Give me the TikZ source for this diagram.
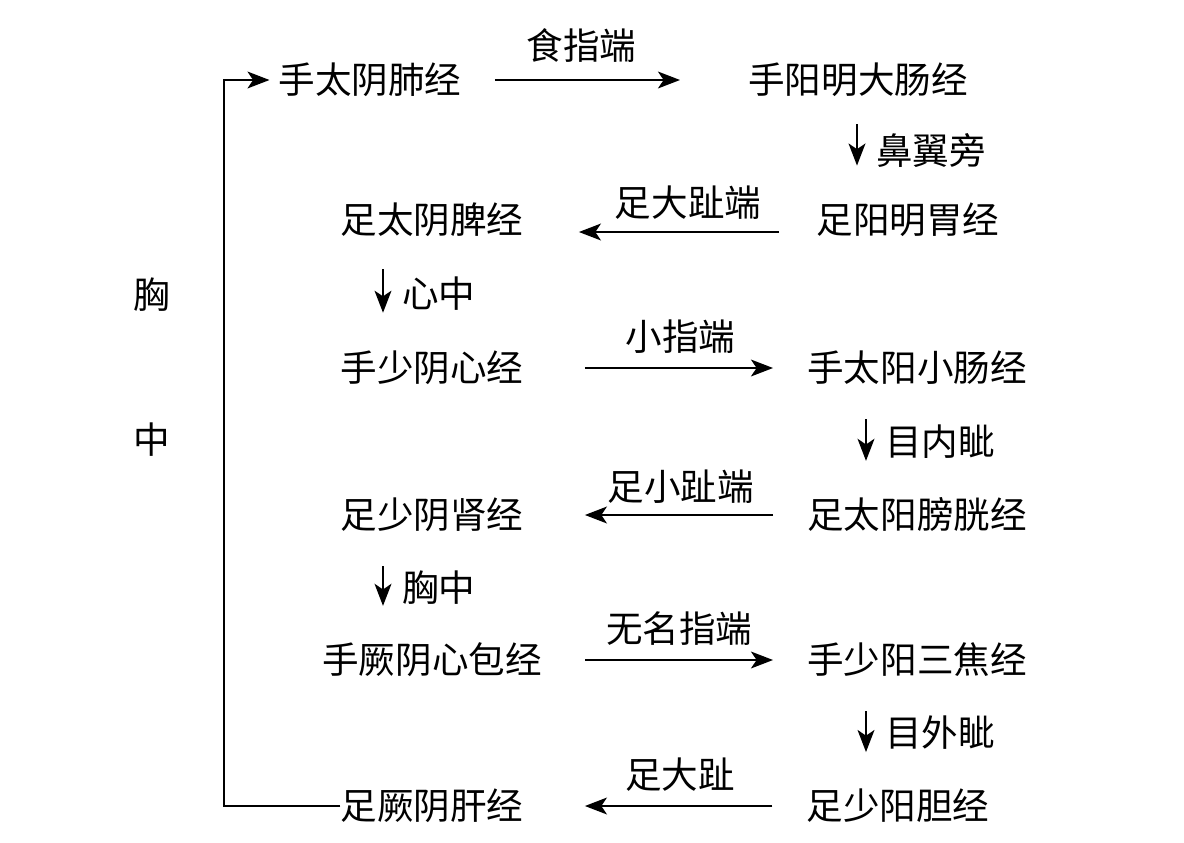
\documentclass[tikz,border=0pt]{standalone}
\usepackage{fontspec}
\newfontfamily\cjk{Noto Sans CJK SC}
\usetikzlibrary{arrows.meta, positioning}

\begin{document}
\begin{tikzpicture}[
    x=0.025cm, y=-0.025cm,
    every node/.style={font=\cjk\fontsize{26}{30}\selectfont, inner sep=0pt},
    arrow/.style={-{Stealth[length=0.55cm, width=0.42cm, inset=0.14cm]}, line width=1.7pt},
    lbl/.style={midway, above=0.33cm},
    side/.style={midway, right=0.45cm}
]
\useasboundingbox (0,0) rectangle (1184,842);

% Rails for the vertical connectors
\coordinate (rail) at (224,0);
\coordinate (railL) at (383,0);
\coordinate (railR) at (866,0);
\coordinate (railT) at (857,0);

% ============ Left column ============
\node (a1) at (370,80) {手太阴肺经};
\node (a2) at (432,220) {足太阴脾经};
\node (a3) at (432,368) {手少阴心经};
\node (a4) at (432,515) {足少阴肾经};
\node (a5) at (432,660) {手厥阴心包经};
\node (a6) at (432,806) {足厥阴肝经};

% ============ Right column ============
\node (b1) at (858,80) {手阳明大肠经};
\node (b2) at (908,220) {足阳明胃经};
\node (b3) at (917,368) {手太阳小肠经};
\node (b4) at (917,515) {足太阳膀胱经};
\node (b5) at (917,660) {手少阳三焦经};
\node (b6) at (898,806) {足少阳胆经};

% Chest
\node (x1) at (152,295) {胸};
\node (x2) at (152,440) {中};

% Horizontal connectors
\draw[arrow, shorten <=0.83cm, shorten >=1.7cm] (a1.east) -- (b1.west)
    node[lbl, above=0.42cm, xshift=-0.58cm] {食指端};
\draw[arrow, shorten <=0.93cm, shorten >=1.38cm] ([yshift=-0.3cm]b2.west) -- ([yshift=-0.3cm]a2.east)
    node[lbl, above=0.28cm, xshift=0.45cm] {足大趾端};
\draw[arrow, shorten <=1.53cm, shorten >=0.85cm] (a3.east) -- (b3.west)
    node[lbl, xshift=0.38cm] {小指端};
\draw[arrow, shorten <=0.85cm, shorten >=1.53cm] (b4.west) -- (a4.east)
    node[lbl, above=0.26cm, xshift=0.38cm] {足小趾端};
\draw[arrow, shorten <=1.08cm, shorten >=0.85cm] (a5.east) -- (b5.west)
    node[lbl, xshift=0.12cm] {无名指端};
\draw[arrow, shorten <=0.85cm, shorten >=1.53cm] (b6.west) -- (a6.east)
    node[lbl, xshift=0.38cm] {足大趾};

% Vertical connectors
\draw[arrow, shorten <=0.68cm, shorten >=0.93cm] (b1.south -| railT) -- (b2.north -| railT)
    node[side] {鼻翼旁};
\draw[arrow, shorten <=0.8cm, shorten >=0.95cm] (a2.south -| railL) -- (a3.north -| railL)
    node[side] {心中};
\draw[arrow, shorten <=0.85cm, shorten >=0.92cm] (b3.south -| railR) -- (b4.north -| railR)
    node[side] {目内眦};
\draw[arrow, shorten <=0.85cm, shorten >=0.92cm] (a4.south -| railL) -- (a5.north -| railL)
    node[side] {胸中};
\draw[arrow, shorten <=0.85cm, shorten >=0.92cm] (b5.south -| railR) -- (b6.north -| railR)
    node[side] {目外眦};

% Back to the start
\draw[arrow, shorten >=0.22cm] (a6.west) -- (a6.west -| rail) |- (a1.west);

\end{tikzpicture}
\end{document}
